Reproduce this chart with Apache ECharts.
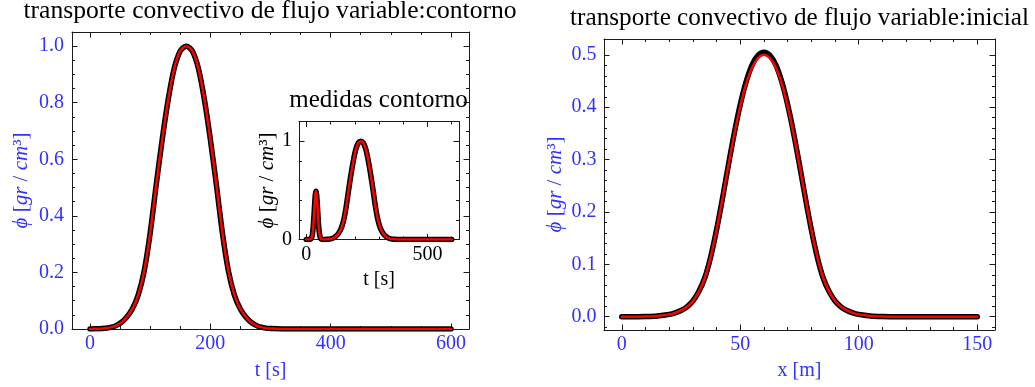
<!DOCTYPE html>
<html><head><meta charset="utf-8">
<script src="https://cdn.jsdelivr.net/npm/echarts@6.0.0/dist/echarts.min.js"></script>
<style>html,body{margin:0;padding:0;background:#fff}#c{width:1035px;height:387px}</style>
</head><body><div id="c"></div>
<script>
// ---- data: left main plot (boundary, contorno)
const tMain = [0,10,20,30,40,50,60,70,80,90,100,110,120,130,140,150,160,170,180,190,200,210,220,230,240,250,260,270,280,290,300,320,350,400,450,500,550,600];
const phiMain = [0.0002,0.0005,0.0015,0.004,0.009,0.020,0.040,0.070,0.120,0.205,0.340,0.510,0.670,0.812,0.922,0.983,1.000,0.983,0.922,0.812,0.670,0.510,0.340,0.205,0.120,0.070,0.040,0.020,0.009,0.004,0.0015,0,0,0,0,0,0,0];
// ---- data: inset (medidas contorno)
const tInset = [0,10,15,17.5,20,22.5,25,27.5,30,32.5,35,37.5,40,42.5,45,47.5,50,52.5,55,57.5,60,62.5,65,70,75,85,95,105,115,125,135,145,155,165,175,185,195,205,215,225,235,245,255,265,275,285,295,305,315,325,335,345,355,365,375,400,450,500,550,600];
const phiInset = [0,0,0.0005,0.0028,0.008,0.021,0.049,0.099,0.177,0.276,0.380,0.459,0.490,0.459,0.380,0.276,0.177,0.099,0.049,0.021,0.008,0.0028,0.001,0,0.0005,0.0015,0.004,0.009,0.020,0.040,0.070,0.120,0.205,0.340,0.510,0.670,0.812,0.922,0.983,1.000,0.983,0.922,0.812,0.670,0.510,0.340,0.205,0.120,0.070,0.040,0.020,0.009,0.004,0.0015,0.0005,0,0,0,0,0];
// ---- data: right plot (initial condition)
const xInit = [0,5,10,15,20,22.5,25,27.5,30,32.5,35,37.5,40,42.5,45,47.5,50,52.5,55,57.5,60,62.5,65,67.5,70,72.5,75,77.5,80,82.5,85,87.5,90,92.5,95,97.5,100,105,110,115,120,125,130,135,140,145,150];
const phiInitExact = [0,0.0001,0.0005,0.0016,0.0045,0.0075,0.012,0.019,0.030,0.048,0.074,0.114,0.166,0.226,0.289,0.349,0.402,0.445,0.476,0.494,0.500,0.494,0.476,0.445,0.402,0.349,0.289,0.226,0.166,0.114,0.074,0.048,0.030,0.019,0.012,0.0075,0.0045,0.0016,0.0005,0.0001,0,0,0,0,0,0,0];
const phiInitNum = [0,0.0001,0.0005,0.0016,0.0045,0.0075,0.012,0.019,0.030,0.048,0.074,0.114,0.166,0.226,0.290,0.351,0.405,0.449,0.481,0.499,0.505,0.499,0.481,0.449,0.405,0.351,0.290,0.226,0.166,0.114,0.074,0.048,0.030,0.019,0.012,0.0075,0.0045,0.0016,0.0005,0.0001,0,0,0,0,0,0,0];

// ---- ticks and labels
const mainXMajor = [0,200,400,600];
const mainXLabels = ['0','200','400','600'];
const mainXMinor = [50,100,150,250,300,350,450,500,550];
const mainYMajor = [0,0.2,0.4,0.6,0.8,1.0];
const mainYLabels = ['0.0','0.2','0.4','0.6','0.8','1.0'];
const mainYMinor = [0.05,0.1,0.15,0.25,0.3,0.35,0.45,0.5,0.55,0.65,0.7,0.75,0.85,0.9,0.95];
const insetXMajor = [0,500];
const insetXLabels = ['0','500'];
const insetXMinor = [100,200,300,400,600];
const insetYMajor = [0,1];
const insetYLabels = ['0','1'];
const insetYMinor = [0.2,0.4,0.6,0.8];
const initXMajor = [0,50,100,150];
const initXLabels = ['0','50','100','150'];
const initXMinor = [10,20,30,40,60,70,80,90,110,120,130,140];
const initYMajor = [0,0.1,0.2,0.3,0.4,0.5];
const initYLabels = ['0.0','0.1','0.2','0.3','0.4','0.5'];
const initYMinor = [-0.02,0.02,0.04,0.06,0.08,0.12,0.14,0.16,0.18,0.22,0.24,0.26,0.28,0.32,0.34,0.36,0.38,0.42,0.44,0.46,0.48];

const titleMain = 'transporte convectivo de flujo variable:contorno';
const titleInit = 'transporte convectivo de flujo variable:inicial';
const titleInset = 'medidas contorno';

const FONT = 'Liberation Serif';
const BLUE = '#3232ff';
const FRAME = '#1a1a1a';
const TICKFS = 20;

function zip(a, b) { return a.map((v, i) => [v, b[i]]); }
function yName(color) {
  return {
    text: '{i|ϕ} [{i|gr} / {i|cm}³]',
    style: {
      color: color, fontFamily: FONT, fontSize: 21,
      rich: { i: { fontStyle: 'italic', fontFamily: FONT, fontSize: 21, color: color } }
    }
  };
}
function xName(text, color) {
  return { text: text, style: { color: color, fontFamily: FONT, fontSize: 20 } };
}
// build 4 axes (labelled major, minor, opposite major, opposite minor) for one grid direction
function axes(kind, g, min, max, major, labels, minor, cfg) {
  const p1 = kind === 'x' ? 'bottom' : 'left';
  const p2 = kind === 'x' ? 'top' : 'right';
  const fmt = v => { const i = major.findIndex(m => Math.abs(m - v) < 1e-9); return i >= 0 ? labels[i] : ''; };
  function one(pos, vals, isMajor, withLabel) {
    const a = {
      type: 'value', gridIndex: g, position: pos, min: min, max: max, silent: true,
      axisLine: { show: isMajor, onZero: false, lineStyle: { color: FRAME, width: 1 } },
      axisTick: { show: true, inside: true, length: isMajor ? 5.5 : 3, customValues: vals, lineStyle: { color: FRAME, width: 1 } },
      axisLabel: withLabel ? { show: true, customValues: vals, formatter: fmt, margin: cfg.margin, color: cfg.color, fontFamily: FONT, fontSize: TICKFS } : { show: false },
      splitLine: { show: false }, minorTick: { show: false }, axisPointer: { show: false }
    };
    if (withLabel && cfg.name) {
      a.name = cfg.name.text; a.nameLocation = 'middle'; a.nameGap = cfg.nameGap;
      a.nameTextStyle = cfg.name.style;
    }
    return a;
  }
  return [one(p1, major, true, true), one(p1, minor, false, false), one(p2, major, true, false), one(p2, minor, false, false)];
}

const xAxes = [].concat(
  axes('x', 0, -30, 630, mainXMajor, mainXLabels, mainXMinor, { margin: 5, color: BLUE, nameGap: 32, name: xName('t [s]', BLUE) }),
  axes('x', 1, -30, 630, insetXMajor, insetXLabels, insetXMinor, { margin: 5, color: '#000', nameGap: 30, name: xName('t [s]', '#000') }),
  axes('x', 2, -7.5, 157.5, initXMajor, initXLabels, initXMinor, { margin: 5, color: BLUE, nameGap: 31, name: xName('x [m]', BLUE) })
);
const yAxes = [].concat(
  axes('y', 0, 0, 1.05, mainYMajor, mainYLabels, mainYMinor, { margin: 8, color: BLUE, nameGap: 40, name: yName(BLUE) }),
  axes('y', 1, 0, 1.2, insetYMajor, insetYLabels, insetYMinor, { margin: 7, color: '#000', nameGap: 15, name: yName('#000') }),
  axes('y', 2, -0.0253, 0.5303, initYMajor, initYLabels, initYMinor, { margin: 7.5, color: BLUE, nameGap: 38, name: yName(BLUE) })
);

function pair(g, xs, ysBlack, ysRed) {
  const base = { type: 'line', xAxisIndex: 4 * g, yAxisIndex: 4 * g, showSymbol: false, smooth: 0.3, silent: true, animation: false };
  return [
    Object.assign({}, base, { data: zip(xs, ysBlack), z: 3, lineStyle: { color: '#000', width: 5.5, cap: 'round', join: 'round' } }),
    Object.assign({}, base, { data: zip(xs, ysRed), z: 4, lineStyle: { color: '#ff0000', width: 2.5, cap: 'round', join: 'round' } })
  ];
}

const chart = echarts.init(document.getElementById('c'), null, { renderer: 'canvas' });
chart.setOption({
  animation: false,
  backgroundColor: '#fff',
  grid: [
    { left: 72, top: 32, width: 397, height: 297, containLabel: false },
    { left: 299, top: 121.5, width: 160, height: 118, containLabel: false, show: true, backgroundColor: '#fff', borderWidth: 0 },
    { left: 604, top: 39, width: 391, height: 291, containLabel: false }
  ],
  xAxis: xAxes,
  yAxis: yAxes,
  series: [].concat(
    pair(0, tMain, phiMain, phiMain),
    pair(1, tInset, phiInset, phiInset),
    pair(2, xInit, phiInitNum, phiInitExact)
  ),
  graphic: [
    { type: 'text', x: 270, y: 11, z: 100, style: { text: titleMain, font: '25.6px "Liberation Serif"', fill: '#000', align: 'center', verticalAlign: 'middle' } },
    { type: 'text', x: 799.5, y: 18, z: 100, style: { text: titleInit, font: '25.2px "Liberation Serif"', fill: '#000', align: 'center', verticalAlign: 'middle' } },
    { type: 'text', x: 378.5, y: 100.3, z: 100, style: { text: titleInset, font: '25px "Liberation Serif"', fill: '#000', align: 'center', verticalAlign: 'middle' } }
  ]
});
</script></body></html>
